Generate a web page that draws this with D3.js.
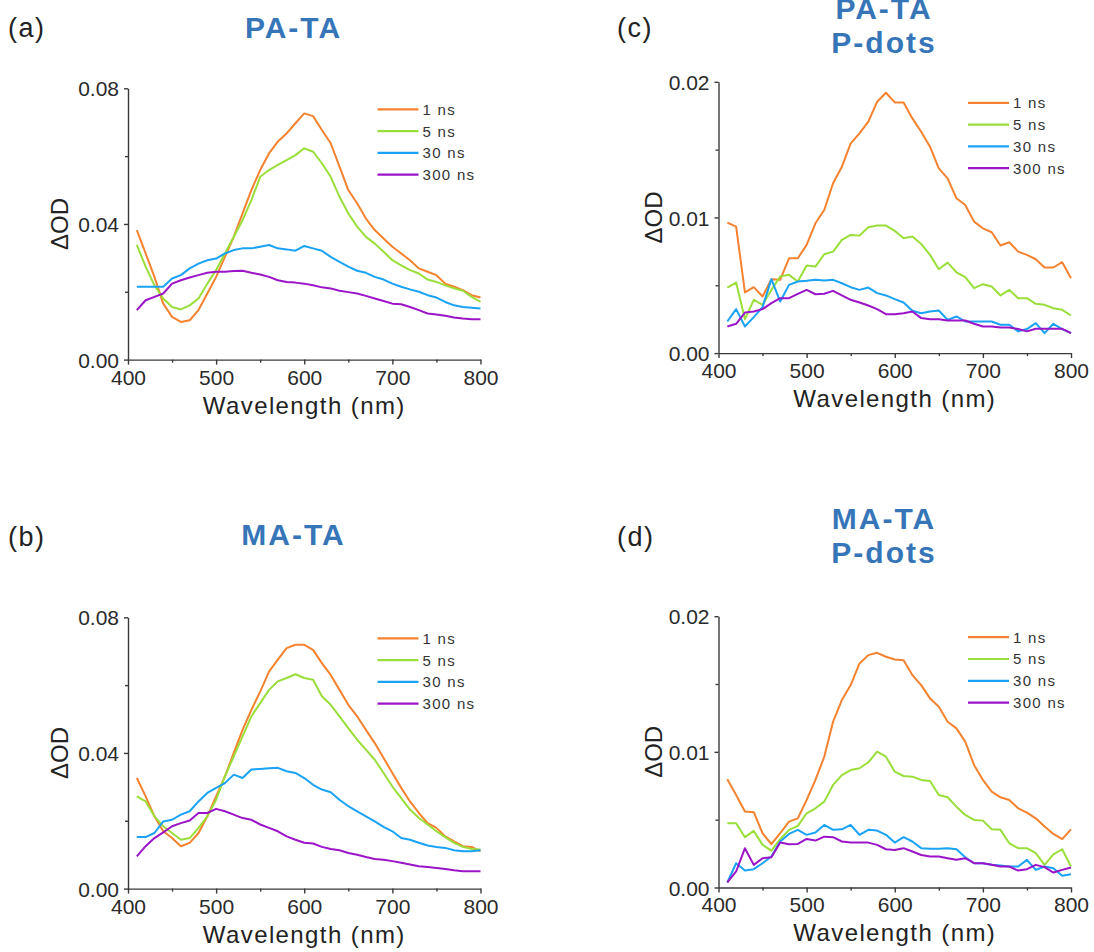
<!DOCTYPE html>
<html lang="en">

<head>
    <meta charset="UTF-8">
    <title>Transient absorption spectra</title>
    <script type="text/javascript" src="https://cdnjs.cloudflare.com/ajax/libs/d3/7.8.5/d3.min.js"></script>
    <style>
        body { margin: 0; background: #fff; }
        #TA_FIGURE text { font-family: "Liberation Sans", Arial, sans-serif; fill: #222; }
        #TA_FIGURE .panel-tag { font-size: 27px; letter-spacing: 1.5px; }
        #TA_FIGURE .panel-title { font-size: 30px; font-weight: bold; fill: #3676b8; letter-spacing: 2px; text-anchor: middle; }
        #TA_FIGURE .tick-label { font-size: 21px; fill: #2a2a2a; }
        #TA_FIGURE .axis-title { font-size: 24px; letter-spacing: 1.4px; text-anchor: middle; }
        #TA_FIGURE .legend-label { font-size: 15px; letter-spacing: 1.3px; fill: #333; }
    </style>
</head>

<body>
    <svg id="TA_FIGURE"></svg>
    <script>
        // probe wavelengths (nm), shared by every spectrum
        var wavelengths = [410, 420, 430, 440, 450, 460, 470, 480, 490, 500,
                           510, 520, 530, 540, 550, 560, 570, 580, 590, 600,
                           610, 620, 630, 640, 650, 660, 670, 680, 690, 700,
                           710, 720, 730, 740, 750, 760, 770, 780, 790, 800];

        var delayLabels = ["1 ns", "5 ns", "30 ns", "300 ns"];
        var delayColors = ["#f5822f", "#9ade3a", "#1aa2f5", "#9b14c8"];

        // (a) PA-TA
        var paTa1ns = [0.0382, 0.0313, 0.0244, 0.0165, 0.0126, 0.0111, 0.0116, 0.0146, 0.0195, 0.0244,
                       0.0303, 0.0362, 0.0431, 0.0500, 0.0559, 0.0608, 0.0643, 0.0667, 0.0697, 0.0726,
                       0.0718, 0.0677, 0.0638, 0.0569, 0.0500, 0.0461, 0.0416, 0.0382, 0.0357, 0.0333,
                       0.0313, 0.0293, 0.0269, 0.0259, 0.0249, 0.0224, 0.0215, 0.0205, 0.0190, 0.0183];
        var paTa5ns = [0.0338, 0.0274, 0.0219, 0.0180, 0.0155, 0.0148, 0.0160, 0.0180, 0.0224, 0.0264,
                       0.0313, 0.0362, 0.0411, 0.0470, 0.0539, 0.0559, 0.0574, 0.0588, 0.0603, 0.0623,
                       0.0613, 0.0579, 0.0539, 0.0480, 0.0431, 0.0392, 0.0362, 0.0342, 0.0318, 0.0293,
                       0.0278, 0.0264, 0.0254, 0.0236, 0.0229, 0.0219, 0.0210, 0.0203, 0.0185, 0.0170];
        var paTa30ns = [0.0215, 0.0215, 0.0215, 0.0215, 0.0239, 0.0249, 0.0269, 0.0283, 0.0293, 0.0298,
                        0.0313, 0.0323, 0.0328, 0.0328, 0.0333, 0.0338, 0.0328, 0.0325, 0.0321, 0.0335,
                        0.0328, 0.0321, 0.0303, 0.0288, 0.0274, 0.0262, 0.0256, 0.0244, 0.0236, 0.0224,
                        0.0215, 0.0207, 0.0200, 0.0190, 0.0183, 0.0170, 0.0160, 0.0155, 0.0153, 0.0151];
        var paTa300ns = [0.0146, 0.0175, 0.0185, 0.0195, 0.0224, 0.0234, 0.0242, 0.0249, 0.0256, 0.0259,
                         0.0259, 0.0261, 0.0262, 0.0256, 0.0251, 0.0244, 0.0234, 0.0229, 0.0227, 0.0224,
                         0.0219, 0.0213, 0.0210, 0.0203, 0.0199, 0.0195, 0.0188, 0.0180, 0.0173, 0.0165,
                         0.0163, 0.0155, 0.0146, 0.0136, 0.0133, 0.0129, 0.0124, 0.0121, 0.0119, 0.0119];

        // (b) MA-TA
        var maTa1ns = [0.0326, 0.0272, 0.0213, 0.0169, 0.0149, 0.0125, 0.0135, 0.0164, 0.0213, 0.0272,
                       0.0331, 0.0400, 0.0468, 0.0527, 0.0581, 0.0640, 0.0675, 0.0709, 0.0719, 0.0719,
                       0.0704, 0.0665, 0.0630, 0.0586, 0.0542, 0.0508, 0.0468, 0.0429, 0.0385, 0.0341,
                       0.0297, 0.0257, 0.0223, 0.0193, 0.0179, 0.0154, 0.0139, 0.0125, 0.0123, 0.0110];
        var maTa5ns = [0.0272, 0.0257, 0.0213, 0.0184, 0.0164, 0.0144, 0.0149, 0.0179, 0.0213, 0.0262,
                       0.0331, 0.0390, 0.0449, 0.0508, 0.0547, 0.0586, 0.0611, 0.0621, 0.0632, 0.0621,
                       0.0616, 0.0567, 0.0542, 0.0508, 0.0473, 0.0439, 0.0410, 0.0380, 0.0341, 0.0301,
                       0.0267, 0.0233, 0.0208, 0.0189, 0.0169, 0.0152, 0.0135, 0.0123, 0.0117, 0.0115];
        var maTa30ns = [0.0152, 0.0152, 0.0164, 0.0198, 0.0203, 0.0218, 0.0228, 0.0257, 0.0282, 0.0297,
                        0.0311, 0.0336, 0.0326, 0.0351, 0.0353, 0.0355, 0.0356, 0.0346, 0.0341, 0.0326,
                        0.0306, 0.0292, 0.0284, 0.0262, 0.0243, 0.0228, 0.0213, 0.0198, 0.0182, 0.0169,
                        0.0149, 0.0144, 0.0135, 0.0127, 0.0123, 0.0120, 0.0113, 0.0110, 0.0110, 0.0113];
        var maTa300ns = [0.0095, 0.0125, 0.0149, 0.0166, 0.0184, 0.0193, 0.0201, 0.0223, 0.0223, 0.0235,
                         0.0228, 0.0218, 0.0208, 0.0203, 0.0189, 0.0179, 0.0169, 0.0154, 0.0144, 0.0135,
                         0.0133, 0.0123, 0.0117, 0.0113, 0.0105, 0.0100, 0.0093, 0.0087, 0.0085, 0.0081,
                         0.0076, 0.0071, 0.0066, 0.0064, 0.0061, 0.0058, 0.0054, 0.0051, 0.0051, 0.0051];

        // (c) PA-TA P-dots
        var paDots1ns = [0.00962, 0.00933, 0.00447, 0.00486, 0.00417, 0.00545, 0.00540, 0.00699, 0.00699, 0.00798,
                         0.00957, 0.01055, 0.01252, 0.01374, 0.01546, 0.01620, 0.01706, 0.01853, 0.01919, 0.01848,
                         0.01848, 0.01730, 0.01632, 0.01522, 0.01362, 0.01288, 0.01141, 0.01092, 0.00969, 0.00920,
                         0.00891, 0.00793, 0.00817, 0.00748, 0.00724, 0.00692, 0.00631, 0.00631, 0.00670, 0.00552];
        var paDots5ns = [0.00483, 0.00520, 0.00250, 0.00393, 0.00356, 0.00466, 0.00564, 0.00577, 0.00528, 0.00645,
                         0.00638, 0.00729, 0.00748, 0.00834, 0.00871, 0.00866, 0.00928, 0.00940, 0.00940, 0.00901,
                         0.00847, 0.00859, 0.00805, 0.00724, 0.00618, 0.00667, 0.00596, 0.00560, 0.00479, 0.00508,
                         0.00491, 0.00425, 0.00466, 0.00405, 0.00405, 0.00363, 0.00356, 0.00331, 0.00319, 0.00277];
        var paDots30ns = [0.00233, 0.00324, 0.00196, 0.00265, 0.00339, 0.00545, 0.00380, 0.00503, 0.00528, 0.00533,
                          0.00540, 0.00535, 0.00540, 0.00515, 0.00486, 0.00466, 0.00483, 0.00442, 0.00425, 0.00398,
                          0.00373, 0.00312, 0.00294, 0.00307, 0.00314, 0.00245, 0.00270, 0.00233, 0.00233, 0.00233,
                          0.00233, 0.00209, 0.00209, 0.00160, 0.00177, 0.00221, 0.00147, 0.00216, 0.00177, 0.00147];
        var paDots300ns = [0.00196, 0.00216, 0.00299, 0.00307, 0.00324, 0.00368, 0.00405, 0.00405, 0.00437, 0.00466,
                           0.00434, 0.00437, 0.00459, 0.00425, 0.00393, 0.00373, 0.00351, 0.00324, 0.00287, 0.00287,
                           0.00294, 0.00307, 0.00258, 0.00250, 0.00250, 0.00240, 0.00240, 0.00240, 0.00216, 0.00196,
                           0.00196, 0.00189, 0.00189, 0.00177, 0.00160, 0.00179, 0.00179, 0.00179, 0.00179, 0.00147];

        // (d) MA-TA P-dots
        var maDots1ns = [0.00798, 0.00682, 0.00560, 0.00555, 0.00400, 0.00319, 0.00400, 0.00486, 0.00510, 0.00645,
                         0.00793, 0.00964, 0.01222, 0.01382, 0.01492, 0.01652, 0.01713, 0.01730, 0.01701, 0.01681,
                         0.01676, 0.01566, 0.01492, 0.01394, 0.01333, 0.01222, 0.01173, 0.01075, 0.00903, 0.00793,
                         0.00707, 0.00665, 0.00645, 0.00584, 0.00552, 0.00510, 0.00449, 0.00395, 0.00356, 0.00429];
        var maDots5ns = [0.00474, 0.00474, 0.00371, 0.00417, 0.00314, 0.00272, 0.00356, 0.00425, 0.00454, 0.00547,
                         0.00584, 0.00633, 0.00756, 0.00829, 0.00866, 0.00879, 0.00923, 0.01001, 0.00964, 0.00854,
                         0.00822, 0.00817, 0.00793, 0.00785, 0.00682, 0.00665, 0.00596, 0.00535, 0.00498, 0.00493,
                         0.00429, 0.00425, 0.00326, 0.00290, 0.00290, 0.00253, 0.00167, 0.00245, 0.00282, 0.00155];
        var maDots30ns = [0.00037, 0.00179, 0.00125, 0.00135, 0.00179, 0.00228, 0.00339, 0.00395, 0.00425, 0.00388,
                          0.00405, 0.00461, 0.00425, 0.00429, 0.00461, 0.00388, 0.00425, 0.00420, 0.00388, 0.00331,
                          0.00371, 0.00339, 0.00290, 0.00285, 0.00285, 0.00290, 0.00282, 0.00223, 0.00179, 0.00179,
                          0.00167, 0.00162, 0.00155, 0.00155, 0.00204, 0.00130, 0.00155, 0.00142, 0.00086, 0.00098];
        var maDots300ns = [0.00037, 0.00118, 0.00290, 0.00167, 0.00216, 0.00223, 0.00331, 0.00319, 0.00321, 0.00358,
                           0.00346, 0.00375, 0.00371, 0.00339, 0.00331, 0.00331, 0.00331, 0.00314, 0.00282, 0.00277,
                           0.00290, 0.00265, 0.00240, 0.00228, 0.00228, 0.00216, 0.00204, 0.00216, 0.00179, 0.00179,
                           0.00167, 0.00155, 0.00155, 0.00125, 0.00135, 0.00167, 0.00150, 0.00110, 0.00130, 0.00147];

        var xTicks = [400, 500, 600, 700, 800];
        var xMinorTicks = [450, 550, 650, 750];

        // one entry per panel: where it sits and which spectra go in it
        var panels = [
            { tag: "(a)", title: ["PA-TA"], left: 128, top: 88.3, yMax: 0.08, yStep: 0.04,
              series: [paTa1ns, paTa5ns, paTa30ns, paTa300ns] },
            { tag: "(b)", title: ["MA-TA"], left: 128, top: 617.3, yMax: 0.08, yStep: 0.04,
              series: [maTa1ns, maTa5ns, maTa30ns, maTa300ns] },
            { tag: "(c)", title: ["PA-TA", "P-dots"], left: 718.5, top: 81.8, yMax: 0.02, yStep: 0.01,
              series: [paDots1ns, paDots5ns, paDots30ns, paDots300ns] },
            { tag: "(d)", title: ["MA-TA", "P-dots"], left: 718.5, top: 616.2, yMax: 0.02, yStep: 0.01,
              series: [maDots1ns, maDots5ns, maDots30ns, maDots300ns] }
        ];

        var plotW = 352.5;
        var plotH = 271.3;
        var axisColor = "#3a3a3a";

        var svg = d3.select("#TA_FIGURE")
            .attr("width", 1094)
            .attr("height", 952);

        svg.append("rect").attr("width", 1094).attr("height", 952).attr("fill", "#fff");

        panels.forEach(function(p){
            var g = svg.append("g").attr("transform", "translate(" + p.left + "," + p.top + ")");
            var rightCol = p.left > 500;

            var x = d3.scaleLinear().domain([400, 800]).range([0, plotW]);
            var y = d3.scaleLinear().domain([0, p.yMax]).range([plotH, 0]);

            var yTicks = [0, p.yStep, 2 * p.yStep];
            var yMinor = [p.yStep / 2, p.yStep * 1.5];

            // minor ticks first, then the labelled axes on top
            g.append("g")
                .attr("transform", "translate(0," + plotH + ")")
                .call(d3.axisBottom(x).tickValues(xMinorTicks).tickSize(3).tickFormat(""))
                .call(function(a){ a.select(".domain").remove(); });
            g.append("g")
                .call(d3.axisLeft(y).tickValues(yMinor).tickSize(3).tickFormat(""))
                .call(function(a){ a.select(".domain").remove(); });

            var xAxis = g.append("g")
                .attr("transform", "translate(0," + plotH + ")")
                .call(d3.axisBottom(x).tickValues(xTicks).tickSizeInner(5).tickSizeOuter(0).tickPadding(5));
            var yAxis = g.append("g")
                .call(d3.axisLeft(y).tickValues(yTicks).tickSizeInner(4).tickSizeOuter(0).tickPadding(5)
                        .tickFormat(d3.format(".2f")));

            g.selectAll(".tick line, .domain")
                .attr("stroke", axisColor)
                .attr("stroke-width", 1.4);
            xAxis.selectAll("text").attr("class", "tick-label").attr("font-size", null).attr("font-family", null);
            yAxis.selectAll("text").attr("class", "tick-label").attr("font-size", null).attr("font-family", null)
                .attr("dy", "0.36em");

            // spectra
            var line = d3.line()
                .x(function(d, i){ return x(wavelengths[i]); })
                .y(function(d){ return y(d); });

            g.append("g")
                .selectAll("path")
                .data(p.series)
                .join("path")
                    .attr("d", line)
                    .attr("fill", "none")
                    .attr("stroke", function(d, i){ return delayColors[i]; })
                    .attr("stroke-width", 2)
                    .attr("stroke-linejoin", "round");

            // legend in the upper right corner
            var legend = g.append("g").attr("transform", "translate(" + (plotW - 103) + ",21)");
            delayLabels.forEach(function(lbl, i){
                var row = legend.append("g").attr("transform", "translate(0," + (i * 21.8) + ")");
                row.append("line")
                    .attr("x1", 0).attr("x2", 41)
                    .attr("stroke", delayColors[i])
                    .attr("stroke-width", 2.2);
                row.append("text")
                    .attr("class", "legend-label")
                    .attr("x", 45)
                    .attr("dy", "0.36em")
                    .text(lbl);
            });

            // axis titles
            g.append("text")
                .attr("class", "axis-title")
                .attr("x", plotW / 2)
                .attr("y", plotH + 54)
                .text("Wavelength (nm)");
            g.append("text")
                .attr("class", "axis-title")
                .attr("transform", "translate(" + (rightCol ? -57 : -60) + "," + (plotH / 2) + ") rotate(-90)")
                .style("letter-spacing", "0px")
                .text("\u0394OD");

            // panel letter and sample name
            var topRow = p.top < 300;
            g.append("text")
                .attr("class", "panel-tag")
                .attr("x", (rightCol ? 617 : 8) - p.left)
                .attr("y", (topRow ? 36.5 : 546) - p.top)
                .text(p.tag);

            var titleBase = p.title.length > 1 ? (topRow ? 18.5 : 528.5) : (topRow ? 38 : 545);
            p.title.forEach(function(t, i){
                g.append("text")
                    .attr("class", "panel-title")
                    .attr("x", 165.5)
                    .attr("y", titleBase + i * 34.8 - p.top)
                    .text(t);
            });
        });
    </script>
</body>

</html>
